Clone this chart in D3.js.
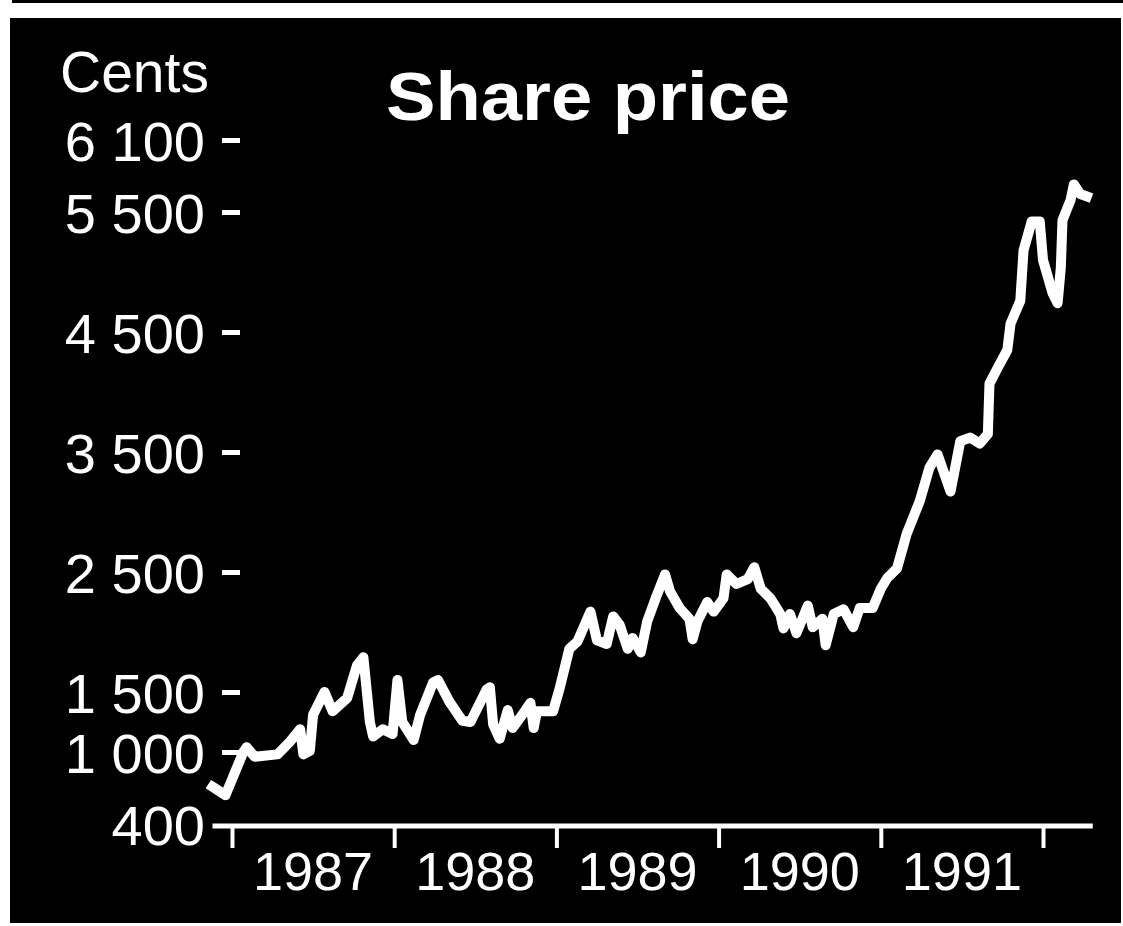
<!DOCTYPE html>
<html>
<head>
<meta charset="utf-8">
<script src="https://cdn.jsdelivr.net/npm/d3@7"></script>
<style>
  html, body { margin: 0; padding: 0; background: #fff; }
  svg { display: block; }
</style>
</head>
<body>
<div id="chart"></div>
<script>
// share price, cents
const years = [
  1986.88, 1986.96, 1987.07, 1987.09, 1987.14, 1987.28, 1987.36, 1987.42, 1987.44, 1987.48,
  1987.50, 1987.57, 1987.62, 1987.71, 1987.77, 1987.81, 1987.85, 1987.87, 1987.93, 1987.99,
  1988.02, 1988.05, 1988.12, 1988.16, 1988.24, 1988.27, 1988.34, 1988.42, 1988.47, 1988.57,
  1988.59, 1988.61, 1988.65, 1988.70, 1988.73, 1988.79, 1988.84, 1988.86, 1988.88, 1988.98,
  1989.02, 1989.08, 1989.13, 1989.21, 1989.25, 1989.31, 1989.35, 1989.39, 1989.44, 1989.47,
  1989.52, 1989.56, 1989.62, 1989.67, 1989.70, 1989.76, 1989.82, 1989.84, 1989.87, 1989.93,
  1989.97, 1990.03, 1990.05, 1990.11, 1990.18, 1990.22, 1990.26, 1990.32, 1990.38, 1990.40,
  1990.44, 1990.48, 1990.55, 1990.58, 1990.64, 1990.66, 1990.71, 1990.77, 1990.83, 1990.87,
  1990.95, 1991.00, 1991.04, 1991.10, 1991.16, 1991.24, 1991.30, 1991.35, 1991.43, 1991.49,
  1991.55, 1991.61, 1991.66, 1991.67, 1991.72, 1991.78, 1991.80, 1991.86, 1991.88, 1991.93,
  1991.98, 1992.00, 1992.06, 1992.09, 1992.11, 1992.12, 1992.17, 1992.19, 1992.23, 1992.27
]
const prices = [
  710, 640, 1000, 1040, 960, 980, 1090, 1190, 980, 1010,
  1310, 1500, 1340, 1450, 1720, 1790, 1250, 1130, 1190, 1150,
  1600, 1250, 1100, 1310, 1580, 1600, 1420, 1260, 1250, 1520,
  1540, 1230, 1110, 1350, 1200, 1310, 1410, 1200, 1340, 1340,
  1530, 1860, 1920, 2170, 1930, 1900, 2130, 2060, 1860, 1950,
  1830, 2090, 2310, 2480, 2340, 2200, 2110, 1940, 2090, 2250,
  2170, 2280, 2480, 2400, 2440, 2540, 2360, 2280, 2150, 2030,
  2150, 1990, 2220, 2040, 2110, 1890, 2150, 2190, 2040, 2200,
  2200, 2360, 2450, 2530, 2820, 3090, 3370, 3480, 3170, 3590,
  3620, 3570, 3650, 4070, 4200, 4350, 4570, 4760, 5180, 5420,
  5420, 5100, 4820, 4740, 5040, 5430, 5600, 5730, 5650, 5630
]
const yTicks = [400, 1000, 1500, 2500, 3500, 4500, 5500, 6100]
const yearTicks = [1987, 1988, 1989, 1990, 1991, 1992]
const yearLabels = ['1987', '1988', '1989', '1990', '1991']

const width = 1123
const height = 926
const font = '"Liberation Sans", Arial, Helvetica, sans-serif'

const data = years.map((t, i) => ({t, v: prices[i]}))

const x = d3.scaleLinear().domain([1987, 1992]).range([232, 1043])
const y = d3.scaleLinear().domain([400, 6100]).range([824, 140])

const fmt = d3.formatLocale({decimal: '.', thousands: ' ', grouping: [3], currency: ['', '']}).format(',')

const svg = d3.select('#chart')
  .append('svg')
  .attr('width', width)
  .attr('height', height)

// black panel of the newspaper graphic
svg.append('rect')
  .attr('x', 10)
  .attr('y', 18)
  .attr('width', width - 12)
  .attr('height', height - 21)
  .attr('fill', '#000')

svg.append('rect')
  .attr('x', 12)
  .attr('y', 0)
  .attr('width', width - 12)
  .attr('height', 3)
  .attr('fill', '#000')

// y axis: dashes and labels only
const yAxis = svg.append('g')
  .attr('transform', 'translate(240,0)')
  .call(d3.axisLeft(y).tickValues(yTicks).tickSize(18).tickPadding(17).tickFormat(fmt))

yAxis.select('.domain').remove()
yAxis.selectAll('.tick line')
  .attr('stroke', '#fff')
  .attr('stroke-width', 5)
  .attr('opacity', (d) => (d === 400 ? 0 : 1))
yAxis.selectAll('.tick text')
  .attr('fill', '#fff')
  .attr('font-family', font)
  .attr('font-size', 56)
  .attr('dy', '0.36em')

svg.append('text')
  .attr('x', 60)
  .attr('y', 92)
  .attr('fill', '#fff')
  .attr('font-family', font)
  .attr('font-size', 57)
  .text('Cents')

svg.append('text')
  .attr('x', 386)
  .attr('y', 120)
  .attr('fill', '#fff')
  .attr('font-family', font)
  .attr('font-weight', 'bold')
  .attr('font-size', 68)
  .attr('textLength', 404)
  .attr('lengthAdjust', 'spacingAndGlyphs')
  .text('Share price')

// x axis
const axisY = 826
const xAxis = svg.append('g')
  .attr('transform', `translate(0,${axisY})`)
  .call(d3.axisBottom(x).tickValues(yearTicks).tickSize(22).tickFormat(''))

xAxis.select('.domain').remove()
xAxis.selectAll('.tick line')
  .attr('stroke', '#fff')
  .attr('stroke-width', 4)

svg.append('line')
  .attr('x1', x(d3.min(years)))
  .attr('x2', x(d3.max(years)) + 6)
  .attr('y1', axisY)
  .attr('y2', axisY)
  .attr('stroke', '#fff')
  .attr('stroke-width', 5)

svg.selectAll('.year')
  .data(yearLabels)
  .enter()
  .append('text')
  .attr('class', 'year')
  .attr('x', (d) => x(+d + 0.5))
  .attr('y', axisY + 64)
  .attr('text-anchor', 'middle')
  .attr('fill', '#fff')
  .attr('font-family', font)
  .attr('font-size', 54)
  .text((d) => d)

// price line
const line = d3.line()
  .x((d) => x(d.t))
  .y((d) => y(d.v))

svg.append('path')
  .datum(data)
  .attr('d', line)
  .attr('fill', 'none')
  .attr('stroke', '#fff')
  .attr('stroke-width', 10)
  .attr('stroke-linejoin', 'round')
  .attr('stroke-linecap', 'square')
</script>
</body>
</html>
